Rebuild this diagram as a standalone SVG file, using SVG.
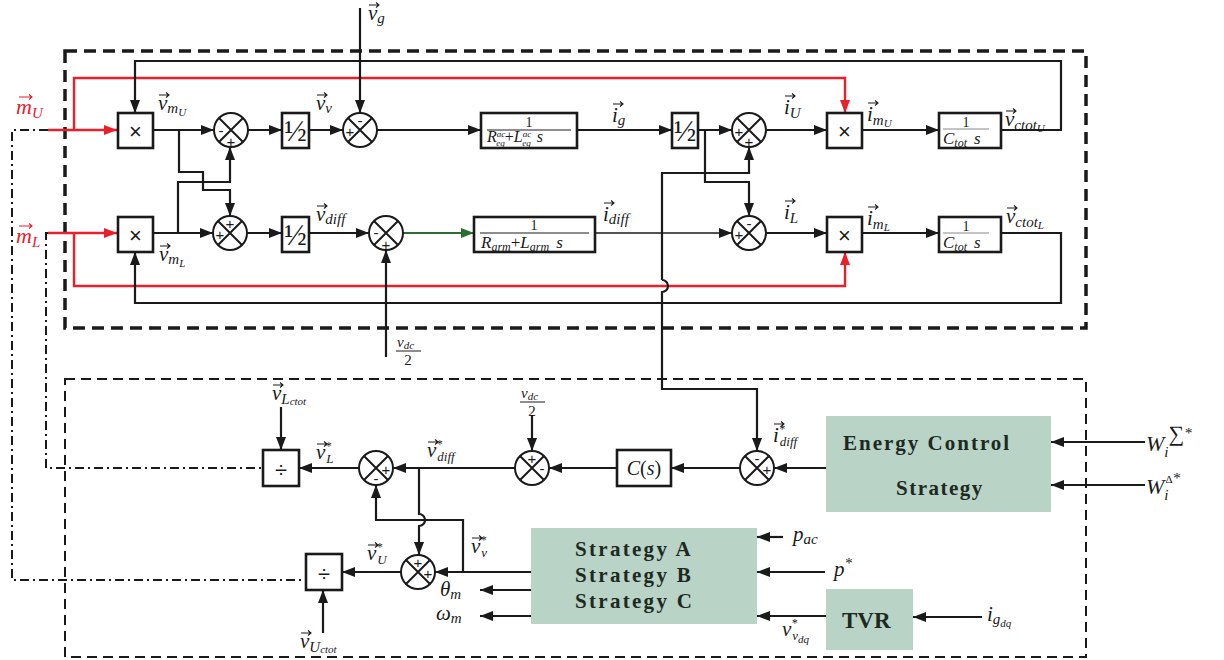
<svg xmlns="http://www.w3.org/2000/svg" width="1224" height="660" viewBox="0 0 1224 660">
<style>
.ln{fill:none;stroke:#1a1a1a;stroke-width:2.2}
.th{fill:none;stroke:#1a1a1a;stroke-width:1.6}
.red{fill:none;stroke:#e8202a;stroke-width:2.4}
.grn{fill:none;stroke:#2a6e35;stroke-width:2.2}
.dd{fill:none;stroke:#1a1a1a;stroke-width:2;stroke-dasharray:9 4 2 4}
.box{fill:#fff;stroke:#1a1a1a;stroke-width:2.6}
.sum{fill:#fff;stroke:#1a1a1a;stroke-width:2}
.x{stroke:#1a1a1a;stroke-width:2}
.gb{fill:#b9d3c6;stroke:none}
.m{font-family:"Liberation Serif",serif;font-style:italic;font-size:21px;fill:#1a1a1a}
.s{font-size:15px}
.ss{font-size:11px}
.st{font-size:12px}
.sb{font-size:13px}
.r{font-family:"Liberation Serif",serif;font-size:14px;fill:#1a1a1a}
.hf{font-family:"Liberation Serif",serif;font-size:30px;fill:#1a1a1a;text-anchor:middle}
.sg{font-family:"Liberation Sans",sans-serif;font-size:15px;fill:#1a1a1a;text-anchor:middle;dominant-baseline:central}
.bt{font-family:"Liberation Serif",serif;font-weight:bold;font-size:21px;fill:#1c2a22}
.op{font-family:"Liberation Sans",sans-serif;font-size:22px;fill:#1a1a1a;text-anchor:middle;dominant-baseline:central}
.va{fill:none;stroke:#1a1a1a;stroke-width:1.1}
.var{fill:none;stroke:#e8202a;stroke-width:1.1}
</style>
<defs>
<marker id="a" markerUnits="userSpaceOnUse" markerWidth="14" markerHeight="10" refX="13" refY="5" orient="auto"><path d="M0,0 L13,5 L0,10 z" fill="#1a1a1a"/></marker>
<marker id="ar" markerUnits="userSpaceOnUse" markerWidth="14" markerHeight="10" refX="13" refY="5" orient="auto"><path d="M0,0 L13,5 L0,10 z" fill="#e8202a"/></marker>
<marker id="ag" markerUnits="userSpaceOnUse" markerWidth="14" markerHeight="10" refX="13" refY="5" orient="auto"><path d="M0,0 L13,5 L0,10 z" fill="#2a6e35"/></marker>
<path id="vec" class="va" d="M0,0 H10 M7,-2.5 L10,0 L7,2.5"/>
<path id="vecr" class="var" d="M0,0 H13 M10,-2.5 L13,0 L10,2.5"/>
</defs>

<!-- frames -->
<rect x="65" y="51" width="1021" height="277" fill="none" stroke="#1a1a1a" stroke-width="3.5" stroke-dasharray="12 7"/>
<rect x="65" y="379" width="1021" height="278" fill="none" stroke="#1a1a1a" stroke-width="2" stroke-dasharray="10 6"/>

<g id="connectors">
<path class="dd" d="M48,130 H12 V580 H307"/>
<path class="dd" d="M48,233 H46 V468 H263"/>
<path class="red" d="M48,130 H117" marker-end="url(#ar)"/>
<path class="red" d="M74,130 V78 H845 V113" marker-end="url(#ar)"/>
<path class="red" d="M48,233 H117" marker-end="url(#ar)"/>
<path class="red" d="M74,233 V286 H845 V252" marker-end="url(#ar)"/>
<path class="ln" d="M1001,130 H1061 V61 H135 V113" marker-end="url(#a)"/>
<path class="ln" d="M1001,233 H1061 V303 H135 V252" marker-end="url(#a)"/>
<path class="ln" d="M153,130 H214" marker-end="url(#a)"/>
<path class="ln" d="M248,130 H282" marker-end="url(#a)"/>
<path class="ln" d="M309,130 H343" marker-end="url(#a)"/>
<path class="ln" d="M360,8 V113" marker-end="url(#a)"/>
<path class="ln" d="M377,130 H481" marker-end="url(#a)"/>
<path class="ln" d="M577,130 H672" marker-end="url(#a)"/>
<path class="ln" d="M698,130 H732" marker-end="url(#a)"/>
<path class="ln" d="M766,130 H827" marker-end="url(#a)"/>
<path class="ln" d="M862,130 H939" marker-end="url(#a)"/>
<path class="ln" d="M179,130 V172 H203 V190 H230 V216" marker-end="url(#a)"/>
<path class="ln" d="M178,233 V182 H230 V147" marker-end="url(#a)"/>
<path class="ln" d="M153,233 H213" marker-end="url(#a)"/>
<path class="ln" d="M247,233 H282" marker-end="url(#a)"/>
<path class="ln" d="M309,233 H369" marker-end="url(#a)"/>
<path class="grn" d="M403,233 H474" marker-end="url(#ag)"/>
<path class="ln" d="M386,357 V250" marker-end="url(#a)"/>
<path class="th" d="M595,233 H732" marker-end="url(#a)"/>
<path class="ln" d="M766,233 H827" marker-end="url(#a)"/>
<path class="ln" d="M862,233 H939" marker-end="url(#a)"/>
<path class="ln" d="M705,130 V182 H749 V216" marker-end="url(#a)"/>
<path class="ln" d="M662,280 V173 H749 V147" marker-end="url(#a)"/>
<path class="ln" d="M662,280 A6,6 0 0 1 662,292 V389 H757 V451" marker-end="url(#a)"/>
<path class="ln" d="M1145,442 H1051" marker-end="url(#a)"/>
<path class="ln" d="M1145,485 H1051" marker-end="url(#a)"/>
<path class="ln" d="M826,468 H774" marker-end="url(#a)"/>
<path class="ln" d="M740,468 H671" marker-end="url(#a)"/>
<path class="ln" d="M617,468 H549" marker-end="url(#a)"/>
<path class="ln" d="M532,415 V451" marker-end="url(#a)"/>
<path class="ln" d="M515,468 H393" marker-end="url(#a)"/>
<path class="ln" d="M359,468 H299" marker-end="url(#a)"/>
<path class="ln" d="M281,407 V450" marker-end="url(#a)"/>
<path class="ln" d="M419,468 V514 A6,6 0 0 1 419,526 V555" marker-end="url(#a)"/>
<path class="ln" d="M531,572 H435" marker-end="url(#a)"/>
<path class="ln" d="M463,572 V520 H376 V485" marker-end="url(#a)"/>
<path class="ln" d="M401,572 H342" marker-end="url(#a)"/>
<path class="ln" d="M323,633 V590" marker-end="url(#a)"/>
<path class="ln" d="M531,590 H480" marker-end="url(#a)"/>
<path class="ln" d="M531,616 H480" marker-end="url(#a)"/>
<path class="ln" d="M783,537 H757" marker-end="url(#a)"/>
<path class="ln" d="M825,572 H757" marker-end="url(#a)"/>
<path class="ln" d="M826,616 H757" marker-end="url(#a)"/>
<path class="ln" d="M982,617 H913" marker-end="url(#a)"/>
</g>

<!-- multipliers -->
<g id="mulU"><rect class="box" x="118" y="113" width="35" height="35"/><text class="op" x="135.5" y="131">×</text></g>
<g id="mulL"><rect class="box" x="118" y="217" width="35" height="35"/><text class="op" x="135.5" y="235">×</text></g>
<g id="mulUR"><rect class="box" x="827" y="113" width="35" height="35"/><text class="op" x="844.5" y="131">×</text></g>
<g id="mulLR"><rect class="box" x="827" y="217" width="35" height="35"/><text class="op" x="844.5" y="235">×</text></g>

<!-- halves -->
<g id="halfU1"><rect class="box" x="282" y="113" width="27" height="35"/><text class="hf" x="295.5" y="141">½</text></g>
<g id="halfL1"><rect class="box" x="282" y="217" width="27" height="35"/><text class="hf" x="295.5" y="245">½</text></g>
<g id="halfU2"><rect class="box" x="672" y="113" width="26" height="35"/><text class="hf" x="685" y="141">½</text></g>

<!-- transfer functions -->
<g id="tfG"><rect class="box" x="481" y="113" width="96" height="35"/>
<text class="r" x="529" y="127" text-anchor="middle" style="font-size:14px">1</text>
<line x1="487" y1="130" x2="571" y2="130" stroke="#1a1a1a" stroke-width="1"/>
<text class="m" x="487" y="142" style="font-size:16px">R<tspan style="font-size:9px" dy="-5">ac</tspan><tspan style="font-size:9px" dx="-9" dy="9">eq</tspan><tspan dy="-4" font-style="normal">+</tspan>L<tspan style="font-size:9px" dy="-5">ac</tspan><tspan style="font-size:9px" dx="-9" dy="9">eq</tspan><tspan dy="-4" dx="6">s</tspan></text></g>
<g id="tfArm"><rect class="box" x="474" y="217" width="121" height="35"/>
<text class="r" x="534" y="230" text-anchor="middle" style="font-size:14px">1</text>
<line x1="480" y1="233" x2="589" y2="233" stroke="#1a1a1a" stroke-width="1"/>
<text class="m" x="481" y="248" style="font-size:17px">R<tspan dy="3" style="font-size:12px">arm</tspan><tspan dy="-3" font-style="normal">+</tspan>L<tspan dy="3" style="font-size:12px">arm</tspan><tspan dy="-3" dx="7">s</tspan></text></g>
<g id="tfCU"><rect class="box" x="939" y="113" width="62" height="35"/>
<text class="r" x="966" y="127" text-anchor="middle" style="font-size:14px">1</text>
<line x1="943" y1="129" x2="989" y2="129" stroke="#888" stroke-width="1"/>
<text class="m" x="943" y="144" style="font-size:17px">C<tspan dy="3" style="font-size:12px">tot</tspan><tspan dy="-3" dx="7">s</tspan></text></g>
<g id="tfCL"><rect class="box" x="939" y="217" width="62" height="35"/>
<text class="r" x="966" y="231" text-anchor="middle" style="font-size:14px">1</text>
<line x1="943" y1="233" x2="989" y2="233" stroke="#888" stroke-width="1"/>
<text class="m" x="943" y="248" style="font-size:17px">C<tspan dy="3" style="font-size:12px">tot</tspan><tspan dy="-3" dx="7">s</tspan></text></g>

<!-- sums -->
<g id="s1"><circle class="sum" cx="231" cy="130" r="17"/><path class="x" d="M219,118 L243,142 M243,118 L219,142"/><text class="sg" x="221" y="130">-</text><text class="sg" x="231" y="141">+</text></g>
<g id="s2"><circle class="sum" cx="360" cy="130" r="17"/><path class="x" d="M348,118 L372,142 M372,118 L348,142"/><text class="sg" x="360" y="120">-</text><text class="sg" x="350" y="131">+</text></g>
<g id="s3"><circle class="sum" cx="230" cy="233" r="17"/><path class="x" d="M218,221 L242,245 M242,221 L218,245"/><text class="sg" x="230" y="223">+</text><text class="sg" x="220" y="234">+</text></g>
<g id="s4"><circle class="sum" cx="386" cy="233" r="17"/><path class="x" d="M374,221 L398,245 M398,221 L374,245"/><text class="sg" x="376" y="232">-</text><text class="sg" x="386" y="244">+</text></g>
<g id="s5"><circle class="sum" cx="749" cy="130" r="17"/><path class="x" d="M737,118 L761,142 M761,118 L737,142"/><text class="sg" x="739" y="131">+</text><text class="sg" x="749" y="141">+</text></g>
<g id="s6"><circle class="sum" cx="749" cy="233" r="17"/><path class="x" d="M737,221 L761,245 M761,221 L737,245"/><text class="sg" x="749" y="223">-</text><text class="sg" x="739" y="234">+</text></g>
<g id="s7"><circle class="sum" cx="757" cy="468" r="17"/><path class="x" d="M745,456 L769,480 M769,456 L745,480"/><text class="sg" x="757" y="458">-</text><text class="sg" x="767" y="469">+</text></g>
<g id="s8"><circle class="sum" cx="532" cy="468" r="17"/><path class="x" d="M520,456 L544,480 M544,456 L520,480"/><text class="sg" x="532" y="458">+</text><text class="sg" x="542" y="468">-</text></g>
<g id="s9"><circle class="sum" cx="376" cy="468" r="17"/><path class="x" d="M364,456 L388,480 M388,456 L364,480"/><text class="sg" x="386" y="469">+</text><text class="sg" x="376" y="478">-</text></g>
<g id="s10"><circle class="sum" cx="418" cy="572" r="17"/><path class="x" d="M406,560 L430,584 M430,560 L406,584"/><text class="sg" x="418" y="562">+</text><text class="sg" x="428" y="573">+</text></g>

<!-- dividers -->
<g id="divL"><rect class="box" x="263" y="450" width="36" height="36"/><text class="op" x="281" y="469">÷</text></g>
<g id="divU"><rect class="box" x="306" y="554" width="36" height="36"/><text class="op" x="324" y="573">÷</text></g>
<g id="cs"><rect class="box" x="617" y="450" width="54" height="36"/><text class="m" x="644" y="475" text-anchor="middle" style="font-size:20px">C<tspan font-style="normal">(</tspan>s<tspan font-style="normal">)</tspan></text></g>

<!-- green blocks -->
<g id="ecs"><rect class="gb" x="826" y="416" width="225" height="96"/><text class="bt" x="843" y="450" style="letter-spacing:2px">Energy Control</text><text class="bt" x="896" y="495" style="letter-spacing:1.5px">Strategy</text></g>
<g id="strat"><rect class="gb" x="531" y="528" width="226" height="96"/><text class="bt" x="575" y="556" style="letter-spacing:2.3px">Strategy A</text><text class="bt" x="575" y="582" style="letter-spacing:2.3px">Strategy B</text><text class="bt" x="575" y="608" style="letter-spacing:2.3px">Strategy C</text></g>
<g id="tvr"><rect class="gb" x="826" y="589" width="87" height="61"/><text class="bt" x="842" y="628" style="font-size:23px">TVR</text></g>

<!-- labels -->
<g id="labels">
<text class="m" x="16" y="114" style="fill:#e8202a;font-size:22px">m<tspan class="s" dy="4">U</tspan></text>
<text class="m" x="16" y="243" style="fill:#e8202a;font-size:22px">m<tspan class="s" dy="4">L</tspan></text>
<text class="m" x="158" y="110">v<tspan class="s" dy="3">m</tspan><tspan class="ss" dy="3">U</tspan></text>
<text class="m" x="316" y="110">v<tspan class="s" dy="3">v</tspan></text>
<text class="m" x="368" y="20">v<tspan class="s" dy="3">g</tspan></text>
<text class="m" x="612" y="122">i<tspan class="s" dy="3">g</tspan></text>
<text class="m" x="784" y="114">i<tspan class="s" dy="4">U</tspan></text>
<text class="m" x="867" y="121">i<tspan class="s" dy="4">m</tspan><tspan class="ss" dy="2">U</tspan></text>
<text class="m" x="1005" y="126">v<tspan class="s" dy="4">ctot</tspan><tspan class="ss" dy="2">U</tspan></text>
<text class="m" x="159" y="261">v<tspan class="s" dy="3">m</tspan><tspan class="ss" dy="3">L</tspan></text>
<text class="m" x="316" y="221">v<tspan class="s" dy="3">diff</tspan></text>
<text class="m" x="603" y="221">i<tspan class="s" dy="3">diff</tspan></text>
<text class="m" x="784" y="219">i<tspan class="s" dy="4">L</tspan></text>
<text class="m" x="867" y="225">i<tspan class="s" dy="4">m</tspan><tspan class="ss" dy="2">L</tspan></text>
<text class="m" x="1006" y="223">v<tspan class="s" dy="4">ctot</tspan><tspan class="ss" dy="2">L</tspan></text>
<g><text class="m" x="397" y="347" style="font-size:15px">v<tspan class="ss" dy="2">dc</tspan></text><line x1="396" y1="351" x2="421" y2="351" stroke="#1a1a1a" stroke-width="1"/><text class="r" x="408" y="365" text-anchor="middle" style="font-size:15px">2</text></g>
<text class="m" x="272" y="400">v<tspan class="s" dy="4">L</tspan><tspan class="ss" dy="1">ctot</tspan></text>
<text class="m" x="316" y="459">v<tspan class="st" dy="-9">*</tspan><tspan class="sb" dx="-5" dy="13">L</tspan></text>
<text class="m" x="427" y="457">v<tspan class="st" dy="-9">*</tspan><tspan class="sb" dx="-5" dy="13">diff</tspan></text>
<g><text class="m" x="521" y="398" style="font-size:15px">v<tspan class="ss" dy="2">dc</tspan></text><line x1="520" y1="402" x2="545" y2="402" stroke="#1a1a1a" stroke-width="1"/><text class="r" x="532" y="416" text-anchor="middle" style="font-size:15px">2</text></g>
<text class="m" x="773" y="442">i<tspan class="st" dy="-9">*</tspan><tspan class="sb" dx="-5" dy="13">diff</tspan></text>
<text class="m" x="367" y="560">v<tspan class="st" dy="-9">*</tspan><tspan class="sb" dx="-5" dy="13">U</tspan></text>
<text class="m" x="471" y="553">v<tspan class="st" dy="-9">*</tspan><tspan class="sb" dx="-5" dy="13">v</tspan></text>
<text class="m" x="440" y="596">θ<tspan class="s" dy="3">m</tspan></text>
<text class="m" x="436" y="620">ω<tspan class="s" dy="3">m</tspan></text>
<text class="m" x="300" y="648">v<tspan class="s" dy="4">U</tspan><tspan class="ss" dy="1">ctot</tspan></text>
<text class="m" x="793" y="541">p<tspan class="s" dy="3">ac</tspan></text>
<text class="m" x="834" y="576">p<tspan class="s" dy="-8">*</tspan></text>
<text class="m" x="782" y="636">v<tspan class="st" dy="-9">*</tspan><tspan class="sb" dx="-5" dy="13">v</tspan><tspan class="ss" dy="3">dq</tspan></text>
<text class="m" x="987" y="621">i<tspan class="s" dy="3">g</tspan><tspan class="ss" dy="3">dq</tspan></text>
<text class="m" x="1146" y="451" style="font-size:22px">W<tspan class="s" dy="6">i</tspan><tspan dy="-16" font-style="normal" style="font-size:22px">∑</tspan><tspan class="s" dy="-3">*</tspan></text>
<text class="m" x="1146" y="494" style="font-size:22px">W<tspan class="s" dy="6">i</tspan><tspan class="ss" dx="-3" dy="-17" font-style="normal">Δ</tspan><tspan class="s" dy="0">*</tspan></text>
</g>

<!-- vector accents -->
<g id="vectors">
<use href="#vecr" x="19" y="97"/>
<use href="#vecr" x="19" y="226"/>
<use href="#vec" x="159" y="95"/>
<use href="#vec" x="317" y="95"/>
<use href="#vec" x="369" y="5"/>
<use href="#vec" x="613" y="104"/>
<use href="#vec" x="785" y="96"/>
<use href="#vec" x="868" y="103"/>
<use href="#vec" x="1006" y="111"/>
<use href="#vec" x="160" y="246"/>
<use href="#vec" x="317" y="206"/>
<use href="#vec" x="604" y="203"/>
<use href="#vec" x="785" y="201"/>
<use href="#vec" x="868" y="207"/>
<use href="#vec" x="1007" y="208"/>
<use href="#vec" x="273" y="385"/>
<use href="#vec" x="317" y="444"/>
<use href="#vec" x="428" y="442"/>
<use href="#vec" x="774" y="424"/>
<use href="#vec" x="368" y="545"/>
<use href="#vec" x="472" y="538"/>
<use href="#vec" x="301" y="633"/>
</g>
</svg>
